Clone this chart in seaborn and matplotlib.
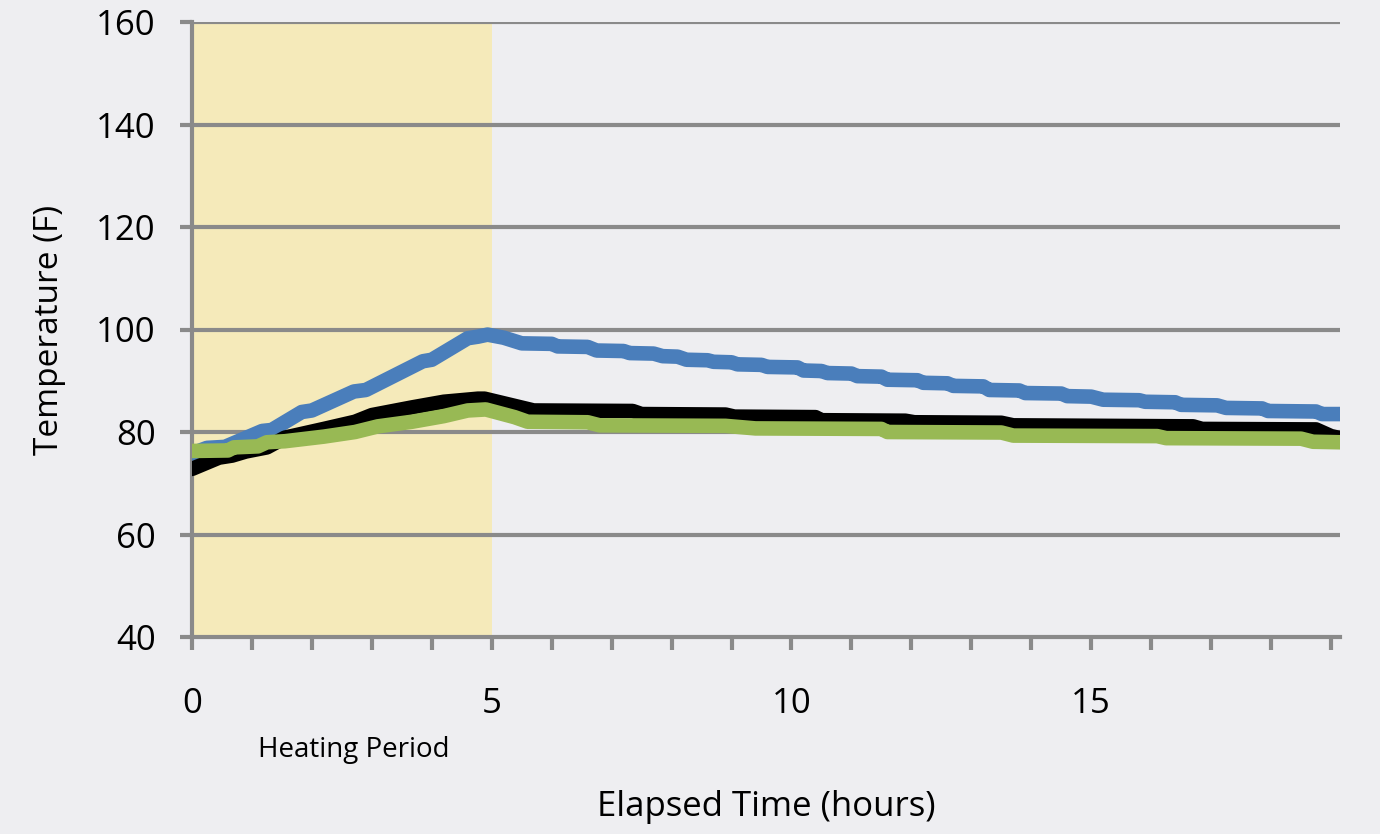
import matplotlib
matplotlib.use("Agg")
import matplotlib.pyplot as plt
from matplotlib.ticker import MultipleLocator, FixedLocator
import seaborn as sns
import pandas as pd

# temperature readings (hours, deg F)
blue_points = [
    (0, 75.8), (0.25, 76.9), (0.55, 77.1), (1.17, 80.2), (1.33, 80.4), (1.83, 83.9),
    (2.0, 84.2), (2.7, 87.9), (2.9, 88.2), (3.85, 93.8), (4.0, 94.1), (4.6, 98.3),
    (4.77, 98.6), (4.93, 99.0), (5.2, 98.4), (5.5, 97.3), (6.0, 97.2), (6.1, 96.7),
    (6.6, 96.6), (6.75, 95.9), (7.2, 95.8), (7.3, 95.4), (7.7, 95.3), (7.85, 94.8),
    (8.1, 94.7), (8.25, 94.1), (8.6, 94.0), (8.7, 93.7), (9.0, 93.6), (9.1, 93.2),
    (9.5, 93.1), (9.6, 92.7), (10.1, 92.6), (10.2, 92.0), (10.5, 91.9), (10.6, 91.5),
    (11.0, 91.4), (11.1, 90.9), (11.5, 90.8), (11.6, 90.2), (12.1, 90.1), (12.2, 89.6),
    (12.6, 89.5), (12.7, 89.0), (13.2, 88.9), (13.3, 88.2), (13.8, 88.1), (13.9, 87.6),
    (14.5, 87.5), (14.6, 87.0), (15.0, 86.9), (15.2, 86.3), (15.8, 86.2), (15.9, 85.9),
    (16.4, 85.8), (16.5, 85.3), (17.1, 85.2), (17.25, 84.7), (17.85, 84.6), (17.95, 84.1),
    (18.75, 84.0), (18.85, 83.5), (19.15, 83.5),
]
black_points = [
    (0, 72.8), (0.45, 75.0), (0.67, 75.4), (0.9, 76.2), (1.25, 77.0), (1.55, 78.9),
    (2.2, 80.6), (2.72, 82.0), (3.0, 83.3), (3.67, 84.8), (4.2, 85.9), (4.77, 86.5),
    (4.88, 86.5), (5.38, 85.1), (5.7, 84.2), (7.35, 84.1), (7.5, 83.5), (8.9, 83.4),
    (9.05, 83.0), (10.4, 82.9), (10.5, 82.3), (11.9, 82.2), (12.05, 81.9), (13.5, 81.8),
    (13.7, 81.3), (16.7, 81.1), (16.85, 80.6), (18.75, 80.5), (19.0, 79.2), (19.15, 78.8),
]
green_points = [
    (0, 76.3), (0.6, 76.4), (0.7, 77.0), (1.1, 77.2), (1.25, 78.0), (1.55, 78.2),
    (2.2, 79.1), (2.72, 80.0), (3.1, 81.1), (3.67, 82.0), (4.2, 83.1), (4.6, 84.2),
    (4.9, 84.4), (5.38, 82.9), (5.6, 82.0), (6.6, 81.9), (6.8, 81.3), (8.9, 81.2),
    (9.4, 80.7), (11.5, 80.6), (11.6, 80.0), (13.5, 79.9), (13.7, 79.3), (16.1, 79.2),
    (16.25, 78.8), (18.5, 78.7), (18.7, 78.1), (19.15, 78.0),
]
heating_period = (0, 5.0)
y_ticks = [40, 60, 80, 100, 120, 140, 160]
x_labels = [0, 5, 10, 15]

BG = "#eeeef1"
GRID = "#8a8a8a"

sns.set_theme(style="white")
plt.rcParams["font.family"] = ["Open Sans", "DejaVu Sans"]
plt.rcParams["text.color"] = "black"
plt.rcParams["axes.labelcolor"] = "black"
plt.rcParams["xtick.labelcolor"] = "black"
plt.rcParams["ytick.labelcolor"] = "black"

fig = plt.figure(figsize=(13.8, 8.34), dpi=100, facecolor=BG)
ax = fig.add_axes([192 / 1380, 1 - 637 / 834, (1340 - 192) / 1380, (637 - 22) / 834])
ax.set_facecolor(BG)

# heating period band
ax.axvspan(*heating_period, color="#f5eaba", zorder=0, lw=0)

# gridlines
for yv in y_ticks[1:]:
    ax.axhline(yv, color=GRID, lw=3, zorder=1)

series = [(blue_points, "#4a7ebb"), (black_points, "#000000"), (green_points, "#98b954")]
for pts, col in series:
    df = pd.DataFrame(pts, columns=["hours", "temp"])
    sns.lineplot(data=df, x="hours", y="temp", ax=ax, color=col, lw=10.5,
                 estimator=None, sort=False, solid_capstyle="round",
                 solid_joinstyle="round", zorder=3)

ax.set_xlim(0, 19.15)
ax.set_ylim(40, 160)
ax.set_yticks(y_ticks)
ax.xaxis.set_major_locator(FixedLocator(x_labels))
ax.xaxis.set_minor_locator(MultipleLocator(1))

for side in ["top", "right"]:
    ax.spines[side].set_visible(False)
for side in ["left", "bottom"]:
    ax.spines[side].set_color(GRID)
    ax.spines[side].set_linewidth(3)
    ax.spines[side].set_zorder(2)

ax.tick_params(axis="y", which="both", direction="out", length=9, width=3,
               color=GRID, labelsize=25, pad=17, left=True)
ax.tick_params(axis="x", which="both", direction="out", length=9, width=3,
               color=GRID, labelsize=25, pad=27, bottom=True)

ax.set_xlabel("Elapsed Time (hours)", fontsize=25, labelpad=50)
ax.set_ylabel("Temperature (F)", fontsize=24, labelpad=22)

ax.annotate("Heating Period", xy=(2.7, -0.183), xycoords=("data", "axes fraction"),
            ha="center", va="center", fontsize=20)

fig.savefig("out.png", dpi=100, facecolor=BG)
